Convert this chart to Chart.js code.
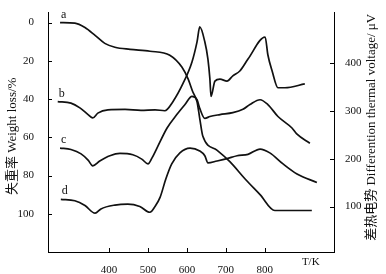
<!DOCTYPE html>
<html>
<head>
<meta charset="utf-8">
<script src="https://cdn.jsdelivr.net/npm/chart.js@4"></script>
<style>
  html, body { margin: 0; padding: 0; background: #fff; }
</style>
</head>
<body>
<canvas id="chart" width="386" height="274"></canvas>
<script>
// curve a: weight loss (left axis, %)
const tempA = [274, 312, 338, 364, 389, 415, 454, 505, 556, 587, 603, 615, 626, 633, 641, 677, 711, 749, 788, 826, 921];
const lossA = [0, 0.3, 2.6, 6.7, 10.9, 12.9, 14, 15, 17.1, 23.3, 29.5, 36.2, 41.4, 50.2, 59.5, 66.7, 72.9, 81.7, 90, 98.3, 98.3];

// curves b, c, d: differential thermal voltage (right axis, μV)
const tempB = [268, 302, 325, 346, 358, 371, 397, 441, 482, 518, 543, 564, 590, 613, 626, 633, 646, 654, 659, 662, 672, 685, 703, 718, 736, 757, 801, 808, 819, 834, 852, 903];
const voltB = [319, 316, 306, 292, 285, 295, 302, 303, 301, 302, 300, 319, 357, 402, 444, 475, 444, 408, 367, 330, 362, 366, 362, 373, 383, 408, 454, 417, 383, 348, 348, 356];

const tempC = [274, 302, 328, 346, 358, 376, 402, 428, 461, 484, 500, 510, 523, 549, 574, 595, 613, 626, 633, 646, 659, 685, 718, 744, 762, 788, 808, 834, 870, 883, 916];
const voltC = [222, 219, 210, 197, 185, 195, 206, 211, 208, 199, 189, 201, 222, 264, 292, 313, 330, 323, 305, 284, 288, 292, 296, 303, 313, 323, 313, 288, 264, 251, 232];

const tempD = [276, 312, 338, 364, 379, 415, 448, 479, 505, 518, 531, 546, 561, 582, 608, 633, 646, 654, 677, 703, 729, 757, 788, 813, 847, 883, 934];
const voltD = [115, 112, 102, 86, 95, 103, 105, 100, 88, 100, 119, 158, 189, 212, 222, 216, 206, 191, 195, 200, 206, 209, 220, 212, 189, 168, 150];

const curveNames = ["a", "b", "c", "d"];
const xTicks = [400, 500, 600, 700, 800];
const lossTicks = [0, 20, 40, 60, 80, 100];
const voltTicks = [100, 200, 300, 400];

const leftTitle = "失重率 Weight loss/%";
const rightTitle = "差热电势 Differention thermal voltage/ μV";
const xTitle = "T/K";

const tickFont = { family: "'Liberation Serif', 'DejaVu Serif', serif", size: 11 };
const ink = "#111";

function pts(xs, ys) {
  return xs.map((x, i) => ({ x: x, y: ys[i] }));
}

function lineSet(name, data, axis) {
  return {
    label: name,
    data: data,
    yAxisID: axis,
    borderColor: ink,
    borderWidth: 1.7,
    pointRadius: 0,
    fill: false,
    cubicInterpolationMode: "monotone"
  };
}

// inward tick marks, axis titles and the a-d labels
const decorations = {
  id: "decorations",
  afterDraw(chart) {
    const { ctx, chartArea, scales } = chart;
    ctx.save();
    ctx.strokeStyle = "#000";
    ctx.lineWidth = 1;
    ctx.beginPath();
    xTicks.forEach(v => {
      const px = Math.round(scales.x.getPixelForValue(v)) + 0.5;
      ctx.moveTo(px, chartArea.bottom);
      ctx.lineTo(px, chartArea.bottom - 4);
    });
    lossTicks.forEach(v => {
      const py = Math.round(scales.yLoss.getPixelForValue(v)) + 0.5;
      ctx.moveTo(chartArea.left, py);
      ctx.lineTo(chartArea.left + 4, py);
    });
    voltTicks.forEach(v => {
      const py = Math.round(scales.yVolt.getPixelForValue(v)) + 0.5;
      ctx.moveTo(chartArea.right, py);
      ctx.lineTo(chartArea.right - 4, py);
    });
    ctx.stroke();

    ctx.fillStyle = ink;
    ctx.font = "12px 'Liberation Serif', serif";
    ctx.textAlign = "left";
    ctx.textBaseline = "alphabetic";
    curveNames.forEach((n, i) => {
      const p = chart.getDatasetMeta(i).data[0];
      ctx.fillText(n, p.x + 1, p.y - 5);
    });

    ctx.font = "11px 'Liberation Serif', serif";
    ctx.textAlign = "center";
    ctx.textBaseline = "middle";
    ctx.fillText(xTitle, scales.x.getPixelForValue(800) + 46, chartArea.bottom + 10);

    ctx.font = "13px 'Liberation Serif', 'Noto Sans CJK SC', serif";
    const midY = (chartArea.top + chartArea.bottom) / 2;
    ctx.save();
    ctx.translate(13, midY + 4);
    ctx.rotate(-Math.PI / 2);
    ctx.fillText(leftTitle, 0, 0);
    ctx.restore();
    ctx.save();
    ctx.translate(chartArea.right + 38, midY - 5);
    ctx.rotate(-Math.PI / 2);
    ctx.fillText(rightTitle, 0, 0);
    ctx.restore();
    ctx.restore();
  }
};

new Chart(document.getElementById("chart").getContext("2d"), {
  type: "line",
  data: {
    datasets: [
      lineSet(curveNames[0], pts(tempA, lossA), "yLoss"),
      lineSet(curveNames[1], pts(tempB, voltB), "yVolt"),
      lineSet(curveNames[2], pts(tempC, voltC), "yVolt"),
      lineSet(curveNames[3], pts(tempD, voltD), "yVolt")
    ]
  },
  options: {
    responsive: false,
    animation: false,
    layout: { padding: { top: 10, left: 0, right: 0, bottom: 0 } },
    plugins: { legend: { display: false }, tooltip: { enabled: false } },
    scales: {
      x: {
        type: "linear",
        min: 243,
        max: 978,
        afterBuildTicks: s => { s.ticks = xTicks.map(v => ({ value: v })); },
        afterFit: s => { s.height = 22; },
        grid: { display: false },
        border: { display: true, color: "#000", width: 1 },
        ticks: { font: tickFont, color: ink, padding: 4, maxRotation: 0, autoSkip: false }
      },
      yLoss: {
        type: "linear",
        position: "left",
        reverse: true,
        min: -5.2,
        max: 120,
        afterBuildTicks: s => { s.ticks = lossTicks.map(v => ({ value: v })); },
        afterFit: s => { s.width = 48; },
        grid: { display: false },
        border: { display: true, color: "#000", width: 1 },
        ticks: { font: tickFont, color: ink, padding: 6 }
      },
      yVolt: {
        type: "linear",
        position: "right",
        min: 5,
        max: 505,
        afterBuildTicks: s => { s.ticks = voltTicks.map(v => ({ value: v })); },
        afterFit: s => { s.width = 52; },
        grid: { display: false },
        border: { display: true, color: "#000", width: 1 },
        ticks: { font: tickFont, color: ink, padding: 3 }
      }
    }
  },
  plugins: [decorations]
});
</script>
</body>
</html>
